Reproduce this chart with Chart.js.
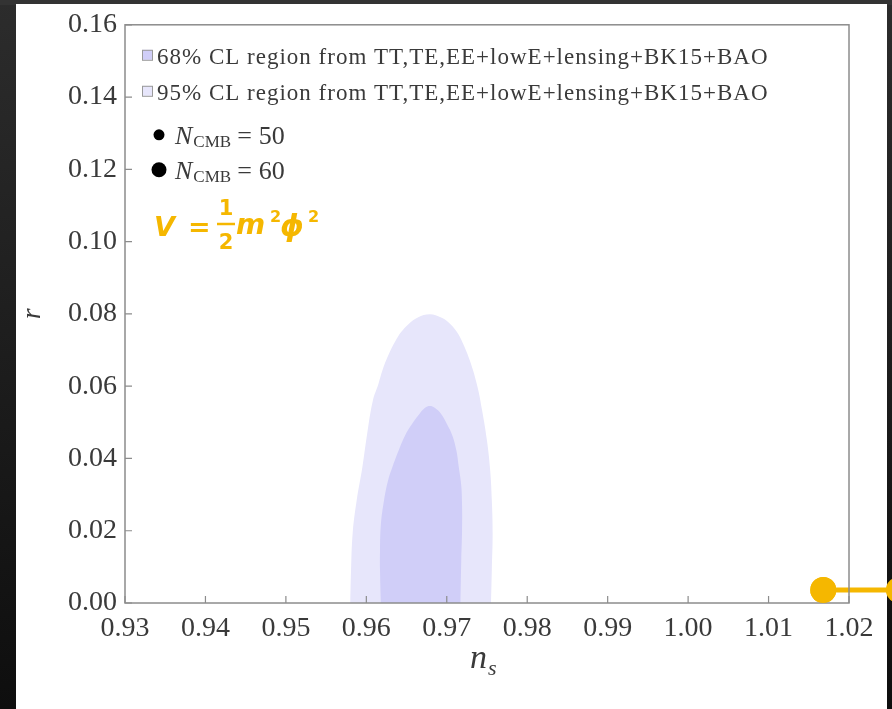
<!DOCTYPE html>
<html>
<head>
<meta charset="utf-8">
<script src="https://cdn.jsdelivr.net/npm/chart.js@4.4.1/dist/chart.umd.min.js"></script>
<style>
  html, body { margin: 0; padding: 0; background: #1b1b1b; }
  canvas { display: block; }
</style>
</head>
<body>
<canvas id="chart" width="892" height="709"></canvas>
<script>

// ------------------------------
// DATA
// ------------------------------

const nsTicks = [0.93, 0.94, 0.95, 0.96, 0.97, 0.98, 0.99, 1.00, 1.01, 1.02]
const rTicks  = [0.00, 0.02, 0.04, 0.06, 0.08, 0.10, 0.12, 0.14, 0.16]

// 95% CL contour (ns, r), bottom-left round to bottom-right
const outerNs = [0.9580, 0.9581, 0.9583, 0.9588, 0.9595, 0.9601, 0.9608, 0.9615, 0.9621, 0.9628, 0.9636, 0.9643, 0.9652, 0.9664,
                 0.9679, 0.9693, 0.9702, 0.9712, 0.9720, 0.9729, 0.9738, 0.9744, 0.9750, 0.9754, 0.9756, 0.9757, 0.9756, 0.9755]
const outerR  = [0.0000, 0.0091, 0.0193, 0.0284, 0.0375, 0.0468, 0.0559, 0.0606, 0.0650, 0.0689, 0.0724, 0.0749, 0.0771, 0.0790,
                 0.0799, 0.0790, 0.0777, 0.0752, 0.0719, 0.0669, 0.0600, 0.0532, 0.0449, 0.0366, 0.0284, 0.0193, 0.0091, 0.0000]

// 68% CL contour
const innerNs = [0.9618, 0.9617, 0.9617, 0.9618, 0.9622, 0.9627, 0.9633, 0.9641, 0.9648, 0.9657, 0.9666, 0.9673,
                 0.9679, 0.9685, 0.9693, 0.9700, 0.9707, 0.9712, 0.9715, 0.9718, 0.9719, 0.9719, 0.9718, 0.9717]
const innerR  = [0.0000, 0.0091, 0.0146, 0.0215, 0.0284, 0.0339, 0.0380, 0.0427, 0.0463, 0.0496, 0.0523, 0.0540,
                 0.0545, 0.0540, 0.0523, 0.0496, 0.0463, 0.0421, 0.0375, 0.0325, 0.0270, 0.0201, 0.0118, 0.0000]

// m^2 phi^2 prediction (runs off the right edge)
const modelNs = [1.0168, 1.0262]
const modelR  = [0.0036, 0.0036]

const clLabels = [
    "68% CL region from TT,TE,EE+lowE+lensing+BK15+BAO",
    "95% CL region from TT,TE,EE+lowE+lensing+BK15+BAO"
]
const nCmbValues = ["50", "60"]

const INNER = "#d0cef8"
const OUTER = "#e7e6fb"
const ORANGE = "#f5b700"
const FRAME = "#8c8c8c"
const TEXT = "#3a3a3a"

function toPoints(xs, ys){
    return xs.map((x, i) => ({x: x, y: ys[i]}))
}

// ------------------------------
// DECORATION PLUGIN
// ------------------------------

const decor = {
    id: "decor",

    beforeDraw(chart){
        const ctx = chart.ctx
        const w = chart.width, h = chart.height
        ctx.save()
        const g = ctx.createLinearGradient(0, 0, 0, h)
        g.addColorStop(0, "#2c2c2c")
        g.addColorStop(1, "#0e0e0e")
        ctx.fillStyle = g
        ctx.fillRect(0, 0, w, h)
        ctx.fillStyle = "#333333"
        ctx.fillRect(0, 0, w, 5)
        ctx.fillStyle = "#ffffff"
        ctx.fillRect(16, 4, 871, h - 4)
        ctx.restore()
    },

    afterDatasetsDraw(chart){
        const ctx = chart.ctx
        const a = chart.chartArea
        const xs = chart.scales.x, ys = chart.scales.y

        ctx.save()
        ctx.strokeStyle = FRAME
        ctx.lineWidth = 1.5
        ctx.strokeRect(a.left, a.top, a.right - a.left, a.bottom - a.top)

        ctx.lineWidth = 1.2
        ctx.beginPath()
        for(const v of nsTicks){
            const px = xs.getPixelForValue(v)
            ctx.moveTo(px, a.bottom)
            ctx.lineTo(px, a.bottom - 7)
        }
        for(const v of rTicks){
            const py = ys.getPixelForValue(v)
            ctx.moveTo(a.left, py)
            ctx.lineTo(a.left + 7, py)
        }
        ctx.stroke()
        ctx.restore()

        // the right-hand model point lies outside the plot box: draw it too
        const meta = chart.getDatasetMeta(2)
        meta.data.forEach(p => p.draw(ctx))
    },

    afterDraw(chart){
        const ctx = chart.ctx
        const a = chart.chartArea
        ctx.save()

        // legend: CL regions
        const boxX = a.left + 17
        const rows = [a.top + 39, a.top + 75]
        ctx.font = '23px "Liberation Serif"'
        ctx.letterSpacing = "1px"
        ctx.textBaseline = "alphabetic"
        clLabels.forEach((txt, i) => {
            const base = rows[i]
            ctx.fillStyle = i === 0 ? INNER : OUTER
            ctx.fillRect(boxX, base - 14, 10, 10)
            ctx.strokeStyle = "#9a9a9a"
            ctx.lineWidth = 1
            ctx.strokeRect(boxX + 0.5, base - 13.5, 10, 10)
            ctx.fillStyle = TEXT
            ctx.fillText(txt, boxX + 15, base)
        })
        ctx.letterSpacing = "0px"

        // legend: N_CMB dots
        const dotRows = [a.top + 110, a.top + 145]
        const dotR = [5.5, 7.5]
        nCmbValues.forEach((val, i) => {
            const cy = dotRows[i]
            ctx.fillStyle = "#000"
            ctx.beginPath()
            ctx.arc(a.left + 34, cy, dotR[i], 0, Math.PI * 2)
            ctx.fill()

            let x = a.left + 50
            const base = cy + 9
            ctx.fillStyle = TEXT
            ctx.font = 'italic 26px "Liberation Serif"'
            ctx.fillText("N", x, base)
            x += ctx.measureText("N").width + 1
            ctx.font = '17px "Liberation Serif"'
            ctx.fillText("CMB", x, base + 3)
            x += ctx.measureText("CMB").width + 6
            ctx.font = '26px "Liberation Serif"'
            ctx.fillText("=", x, base)
            x += ctx.measureText("=").width + 7
            ctx.fillText(val, x, base)
        })

        // model label  V = 1/2 m^2 phi^2
        ctx.fillStyle = ORANGE
        ctx.strokeStyle = ORANGE
        ctx.font = 'bold italic 27px "DejaVu Sans"'
        ctx.fillText("V", 154, 236)
        ctx.font = 'bold 27px "DejaVu Sans"'
        ctx.fillText("=", 188, 236)
        ctx.font = 'bold 21px "DejaVu Sans"'
        ctx.textAlign = "center"
        ctx.fillText("1", 226, 215)
        ctx.fillText("2", 226, 249)
        ctx.lineWidth = 2.5
        ctx.beginPath()
        ctx.moveTo(217, 224)
        ctx.lineTo(235, 224)
        ctx.stroke()
        ctx.textAlign = "left"
        ctx.font = 'bold italic 28px "DejaVu Sans"'
        ctx.fillText("m", 236, 234)
        ctx.font = 'bold 16px "DejaVu Sans"'
        ctx.fillText("2", 270, 222)
        ctx.font = 'bold italic 30px "DejaVu Sans"'
        ctx.fillText("\u03d5", 280, 236)
        ctx.font = 'bold 16px "DejaVu Sans"'
        ctx.fillText("2", 308, 222)

        // x axis title  n_s
        ctx.fillStyle = TEXT
        ctx.font = 'italic 34px "Liberation Serif"'
        ctx.fillText("n", 470, 668)
        ctx.font = 'italic 22px "Liberation Serif"'
        ctx.fillText("s", 488, 675)

        ctx.restore()
    }
}

// ------------------------------
// CHART
// ------------------------------

const tickFont = {family: "Liberation Serif", size: 28}

const ctx = document.getElementById("chart").getContext("2d")

const chart = new Chart(ctx, {
    type: "line",
    data: {
        datasets: [
            {
                label: clLabels[0],
                data: toPoints(innerNs, innerR),
                fill: "shape",
                backgroundColor: INNER,
                borderWidth: 0,
                pointRadius: 0,
                tension: 0.4,
                order: 1
            },
            {
                label: clLabels[1],
                data: toPoints(outerNs, outerR),
                fill: "shape",
                backgroundColor: OUTER,
                borderWidth: 0,
                pointRadius: 0,
                tension: 0.4,
                order: 2
            },
            {
                label: "model",
                data: toPoints(modelNs, modelR),
                borderColor: ORANGE,
                borderWidth: 5,
                pointRadius: 13,
                pointBackgroundColor: ORANGE,
                pointBorderWidth: 0,
                fill: false,
                clip: false,
                order: 0
            }
        ]
    },
    options: {
        responsive: false,
        animation: false,
        layout: {padding: {top: 22, right: 43, left: 0, bottom: 0}},
        plugins: {
            legend: {display: false},
            tooltip: {enabled: false}
        },
        scales: {
            x: {
                type: "linear",
                min: nsTicks[0],
                max: nsTicks[nsTicks.length - 1],
                afterBuildTicks: s => { s.ticks = nsTicks.map(v => ({value: v})) },
                afterFit: s => { s.height = 106 },
                grid: {display: false, drawTicks: false},
                border: {display: false},
                ticks: {
                    font: tickFont,
                    color: TEXT,
                    padding: 9,
                    maxRotation: 0,
                    autoSkip: false,
                    callback: v => v.toFixed(2)
                }
            },
            y: {
                type: "linear",
                min: rTicks[0],
                max: rTicks[rTicks.length - 1],
                afterBuildTicks: s => { s.ticks = rTicks.map(v => ({value: v})) },
                afterFit: s => { s.width = 125 },
                grid: {display: false, drawTicks: false},
                border: {display: false},
                title: {
                    display: true,
                    text: "r",
                    font: {family: "Liberation Serif", size: 28, style: "italic"},
                    color: TEXT,
                    padding: {top: 16, bottom: 0}
                },
                ticks: {
                    font: tickFont,
                    color: TEXT,
                    padding: 8,
                    autoSkip: false,
                    callback: v => v.toFixed(2)
                }
            }
        }
    },
    plugins: [decor]
})

</script>
</body>
</html>
